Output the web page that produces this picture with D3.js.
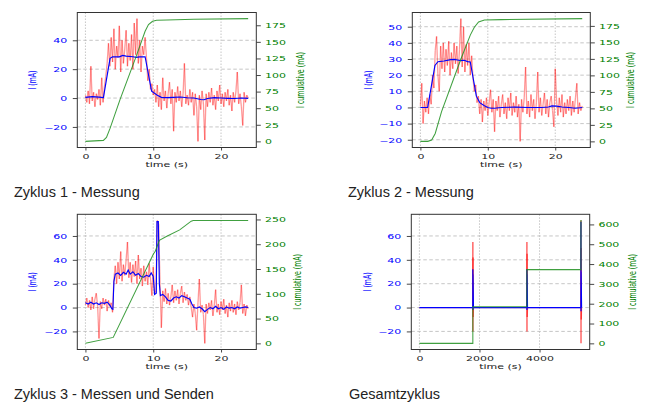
<!DOCTYPE html>
<html>
<head>
<meta charset="utf-8">
<script src="https://cdn.jsdelivr.net/npm/d3@7"></script>
<style>
  html, body { margin: 0; padding: 0; background: #fff; }
  svg { display: block; }
</style>
</head>
<body>
<svg id="chart" width="646" height="403"></svg>
<script>
// Abtastintervall der Rohmessung (s)
const SAMPLE_DT = 0.2;

// Zyklus 1 - Messung: Rohstrom (mA), alle 0.2 s
const c1Current = [
  2, -3, 5, -4, 22, -2, 4, -6, 3, -1,
  6, -5, 14, -3, 8, 15, 24, 38, 22, 42,
  25, 48, 20, 36, 28, 50, 18, 40, 24, 34,
  47, 22, 38, 26, 44, 20, 52, 30, 55, 24,
  40, 18, 36, 30, 42, 28, 12, 20, 6, 10,
  2, 6, -3, 9, -6, 4, -8, 14, -2, 5,
  -7, 3, 11, -4, 6, -23, 4, -3, 8, -2,
  5, -6, 3, 24, -4, 2, -5, 6, -3, 4,
  -12, 3, -6, -30, 2, -8, 5, -4, -29, 3,
  -6, 4, -3, 7, -5, 2, -8, 5, -2, 9,
  -4, 3, -6, 4, -2, 6, -5, 2, -9, 4,
  -3, 5, 18, -4, 3, -6, -19, 4, -3, 2,
  0
];
const c1SmoothT = [0, 1, 2, 2.65, 3.63, 4, 5, 5.5, 6, 7, 7.5, 8, 8.8, 9.76, 10.6, 11.2, 12, 13, 14, 15, 16, 16.5, 17, 17.5, 18, 19, 20, 21, 22, 23, 24];
const c1SmoothI = [0.5, 1, 0.6, 0.3, 27.5, 28.6, 28.5, 29.5, 29, 28.6, 28.2, 28.5, 28.6, 4.8, 2, 0.5, 0.3, 0.5, 0.7, 0.2, 0, -0.5, -1, -1.2, -0.3, 0.3, 0, -0.2, -0.3, 0, -0.2];
const c1CumT = [0, 2.65, 3.1, 3.63, 5.1, 7.55, 8.8, 9.3, 9.9, 10.5, 12, 16, 24];
const c1CumI = [0, 1.5, 6, 19.5, 63, 130, 166, 176, 181, 182.5, 183, 184, 185];

// Zyklus 2 - Messung
const c2Current = [
  1, 15, -10, 4, -3, 6, -4, 8, 2, 20,
  12, 35, 44, 20, 10, 38, 24, 40, 22, 36,
  26, 41, 20, 34, 24, 40, 27, 38, 21, 36,
  55, 25, 50, 22, 39, 26, 40, 20, 32, 18,
  10, 14, 3, 7, -4, 5, -9, 4, -2, 6,
  -5, 3, 11, -3, 5, -15, 4, -2, 7, -6,
  2, 8, -4, 3, -7, 6, -2, 9, -5, 3,
  -3, 7, -6, 2, -21, 5, -3, 6, 25, -4,
  4, -6, 8, -2, 5, -7, 3, 22, -3, 6,
  -5, 2, 9, -4, 5, -6, 3, 7, -2, -12,
  24, 4, -5, 6, -3, 8, -6, 3, -4, 5,
  -2, 7, -5, 4, -3, 6, 15, -4, 3, -2,
  1
];
const c2SmoothT = [0, 1.08, 2.16, 2.6, 3.5, 4.5, 5, 5.5, 6, 6.5, 7, 7.4, 8.3, 8.8, 9.5, 10, 10.5, 11, 12, 14, 16, 18, 19, 19.5, 20.2, 21, 22, 23, 24];
const c2SmoothI = [0, 0, 26, 28.3, 28.8, 29.6, 29.8, 29.4, 29, 29.2, 28.4, 28.2, 7, 3, 1, 0, -0.5, -0.5, 0, 0.2, 0, 0, 0.3, 1, 0.8, 0.3, 0, -0.5, 0];
const c2CumT = [0, 1.1, 1.67, 2.2, 3.14, 5.98, 7.4, 8, 8.63, 9.5, 12, 24];
const c2CumI = [0, 0, 2, 12, 45, 124, 161, 173, 181, 184, 184.5, 186];

// Zyklus 3 - Messen und Senden
const c3Current = [
  2, 8, 0, 6, -2, 9, -1, 7, 12, 1,
  -26, 5, -1, 8, 2, 7, -3, 6, 1, 4,
  -4, 24, 35, 20, 38, 24, 47, 22, 36, 27,
  40, 55, 25, 38, 21, 36, 26, 39, 20, 44,
  24, 33, 18, 35, 22, 30, 19, 37, 24, 10,
  34, 12, 14, 73, 70, 20, -17, 14, 5, 16,
  3, 12, 2, 9, 19, 4, 14, 6, 15, 3,
  12, 18, 4, 13, 6, 11, 2, 9, 0, -8,
  3, -5, -19, 4, 24, -4, 2, -6, -30, 3,
  -5, 4, -2, 6, -7, 2, 15, -4, 3, -6,
  5, -2, 7, -5, 2, -8, 4, -3, 6, -4,
  3, -6, 5, -2, 4, 19, -5, 3, -7, 2,
  -1
];
const c3SmoothT = [0, 0.4, 0.8, 1.2, 1.6, 2, 2.4, 2.8, 3.2, 3.6, 3.9, 4.05, 4.2, 4.4, 4.8, 5.2, 5.6, 6, 6.3, 6.6, 7, 7.4, 7.8, 8.2, 8.6, 9, 9.4, 9.7, 10, 10.2, 10.45, 10.55, 10.75, 10.9, 11.05, 11.4, 11.8, 12.2, 12.6, 13, 13.4, 13.8, 14.2, 14.6, 15, 15.4, 15.7, 16, 16.4, 16.8, 17.2, 17.6, 18, 18.4, 18.8, 19.2, 19.6, 20, 20.4, 20.8, 21.2, 21.6, 22, 22.4, 22.8, 23.2, 23.6, 24];
const c3SmoothI = [4, 3, 4.5, 3, 4, 2.5, 4, 3.5, 4.5, 2, -1, -1.5, 22, 28, 29, 27, 29.5, 28, 31.5, 28, 30, 27, 28.5, 26, 25.5, 27, 26, 29, 26, 11, 12, 72, 72, 20, 10, 11, 9, 6, 5.5, 8, 9, 8, 10, 9, 8, 7, 3, 0, -0.5, 0.5, -1, -3.5, -1.5, 0, -1, 1, -1, 0, -1.5, 0.5, -0.5, 0, -1, 0.5, -0.5, 0, 0.5, 0];
const c3CumT = [0, 4.1, 10.05, 10.3, 10.9, 12, 13.9, 15.6, 15.9, 24];
const c3CumI = [0, 12, 181, 186, 208, 216, 229, 246.6, 248, 248];

// Gesamtzyklus (s)
const totRawT = [0, 1776, 1779, 1781, 1785, 1790, 1800, 3576, 3579, 3581, 3585, 3590, 3600, 5376, 5379, 5381, 5385, 5390, 5400];
const totRawI = [0, 0, 55, -20, 42, -8, 0, 0, 55, -20, 45, -8, 0, 0, 73, -30, 50, -10, 0];
const totSmoothT = [0, 1776, 1779, 1781, 1785, 1800, 3576, 3579, 3581, 3585, 3600, 5376, 5379, 5381, 5385, 5400];
const totSmoothI = [0, 0, 32, -2, 28, 0, 0, 32, -2, 28, 0, 0, 72, -3, 30, 0];
const totCumT = [0, 1779, 1779, 3579, 3579, 5379, 5379, 5400];
const totCumI = [0, 0, 185, 185, 372, 372, 620, 620];

// Achsenbeschriftungen
const xTicksCycle = [0, 10, 20];
const xTicksTotal = [0, 2000, 4000];
const yTicks1 = [-20, 0, 20, 40];
const yTicks2 = [-20, -10, 0, 10, 20, 30, 40, 50];
const yTicks34 = [-20, 0, 20, 40, 60];
const cumTicks12 = [0, 25, 50, 75, 100, 125, 150, 175];
const cumTicks3 = [0, 50, 100, 150, 200, 250];
const cumTicksTotal = [0, 100, 200, 300, 400, 500, 600];
const captions = ["Zyklus 1 - Messung", "Zyklus 2 - Messung", "Zyklus 3 - Messen und Senden", "Gesamtzyklus"];

// Bild ist vertikal gestaucht -> Text ebenso stauchen
const SQ = 0.57;
const FONT = "DejaVu Sans";
const FS = 11;

const rawTimes = arr => arr.map((_, i) => i * SAMPLE_DT);

const panels = [
  { l: 77.3, r: 256.3, t: 12.5, b: 147.5,
    rawT: rawTimes(c1Current), rawI: c1Current, smT: c1SmoothT, smI: c1SmoothI, cumT: c1CumT, cumI: c1CumI,
    xTicks: xTicksCycle, yTicks: yTicks1, cumTicks: cumTicks12,
    ylabX: 35.5, y2labX: 303.5, caption: captions[0], capX: 14, capY: 196.5 },
  { l: 412.3, r: 590.3, t: 12.5, b: 147.5,
    rawT: rawTimes(c2Current), rawI: c2Current, smT: c2SmoothT, smI: c2SmoothI, cumT: c2CumT, cumI: c2CumI,
    xTicks: xTicksCycle, yTicks: yTicks2, cumTicks: cumTicks12,
    ylabX: 371.5, y2labX: 633.5, caption: captions[1], capX: 348, capY: 196.5 },
  { l: 77.3, r: 256.3, t: 214.3, b: 349.5,
    rawT: rawTimes(c3Current), rawI: c3Current, smT: c3SmoothT, smI: c3SmoothI, cumT: c3CumT, cumI: c3CumI,
    xTicks: xTicksCycle, yTicks: yTicks34, cumTicks: cumTicks3,
    ylabX: 35.5, y2labX: 301, caption: captions[2], capX: 14, capY: 399 },
  { l: 411.3, r: 589.7, t: 214.3, b: 349.5,
    rawT: totRawT, rawI: totRawI, smT: totSmoothT, smI: totSmoothI, cumT: totCumT, cumI: totCumI,
    xTicks: xTicksTotal, yTicks: yTicks34, cumTicks: cumTicksTotal,
    ylabX: 371, y2labX: 635.5, caption: captions[3], capX: 349, capY: 399 }
];

const svg = d3.select("#chart");
const fmt = d3.format("d");

function padExtent([a, b]) {
  const m = (b - a) * 0.05;
  return [a - m, b + m];
}

function styleAxis(sel, color, tx, ty, anchor) {
  sel.select(".domain").remove();
  sel.attr("font-family", FONT).attr("font-size", FS);
  sel.selectAll(".tick line").attr("stroke", "#333").attr("stroke-width", 0.9);
  sel.selectAll(".tick text")
    .attr("x", 0).attr("y", 0).attr("dy", 0)
    .attr("fill", color)
    .attr("text-anchor", anchor)
    .attr("transform", `translate(${tx},${ty}) scale(1,${SQ})`);
}

function drawPanel(p) {
  const x = d3.scaleLinear().domain(padExtent(d3.extent(p.rawT))).range([p.l, p.r]);
  const y = d3.scaleLinear().domain(padExtent(d3.extent([...p.rawI, ...p.smI]))).range([p.b, p.t]);
  const y2 = d3.scaleLinear().domain(padExtent(d3.extent(p.cumI))).range([p.b, p.t]);

  const g = svg.append("g");

  // Gitter
  g.append("g").selectAll("line").data(p.yTicks).join("line")
    .attr("x1", p.l).attr("x2", p.r)
    .attr("y1", d => y(d)).attr("y2", d => y(d))
    .attr("stroke", "#b8b8b8").attr("stroke-width", 0.8)
    .attr("stroke-dasharray", "3.5,2.5");
  g.append("g").selectAll("line").data(p.xTicks).join("line")
    .attr("x1", d => x(d)).attr("x2", d => x(d))
    .attr("y1", p.t).attr("y2", p.b)
    .attr("stroke", "#b8b8b8").attr("stroke-width", 0.8)
    .attr("stroke-dasharray", "1.5,1.5");

  // Rohstrom als einzelne Segmente (Überlagerung wird dunkler)
  const raw = p.rawT.map((t, i) => [t, p.rawI[i]]);
  g.append("g").selectAll("line").data(d3.pairs(raw)).join("line")
    .attr("x1", d => x(d[0][0])).attr("y1", d => y(d[0][1]))
    .attr("x2", d => x(d[1][0])).attr("y2", d => y(d[1][1]))
    .attr("stroke", "#ff0000").attr("stroke-opacity", 0.4)
    .attr("stroke-width", 1.3);

  // geglätteter Strom
  const smooth = p.smT.map((t, i) => [t, p.smI[i]]);
  g.append("path").datum(smooth)
    .attr("d", d3.line().x(d => x(d[0])).y(d => y(d[1])))
    .attr("fill", "none").attr("stroke", "#0000ff").attr("stroke-width", 1.15);

  // kumulativ (rechte Achse)
  const cum = p.cumT.map((t, i) => [t, p.cumI[i]]);
  g.append("path").datum(cum)
    .attr("d", d3.line().x(d => x(d[0])).y(d => y2(d[1])))
    .attr("fill", "none").attr("stroke", "#1f8f1f").attr("stroke-opacity", 0.85)
    .attr("stroke-width", 1.05);

  // Rahmen
  g.append("rect")
    .attr("x", p.l).attr("y", p.t)
    .attr("width", p.r - p.l).attr("height", p.b - p.t)
    .attr("fill", "none").attr("stroke", "#333").attr("stroke-width", 1);

  // Achsen
  g.append("g").attr("transform", `translate(${p.l},0)`)
    .call(d3.axisLeft(y).tickValues(p.yTicks).tickSize(4.5).tickFormat(fmt))
    .call(styleAxis, "#0000ff", -10, 2.3, "end");
  g.append("g").attr("transform", `translate(${p.r},0)`)
    .call(d3.axisRight(y2).tickValues(p.cumTicks).tickSize(4.5).tickFormat(fmt))
    .call(styleAxis, "#008000", 8.7, 2.3, "start");
  g.append("g").attr("transform", `translate(0,${p.b})`)
    .call(d3.axisBottom(x).tickValues(p.xTicks).tickSize(3).tickFormat(fmt))
    .call(styleAxis, "#222", 0, 11, "middle");

  // Achsentitel
  const cy = (p.t + p.b) / 2;
  g.append("text")
    .attr("transform", `translate(${(p.l + p.r) / 2},${p.b + 19.2}) scale(1,${SQ})`)
    .attr("text-anchor", "middle")
    .attr("font-family", FONT).attr("font-size", FS).attr("fill", "#222")
    .text("time (s)");
  g.append("text")
    .attr("transform", `translate(${p.ylabX},${cy}) scale(1,${SQ}) rotate(-90)`)
    .attr("text-anchor", "middle")
    .attr("font-family", FONT).attr("font-size", FS).attr("fill", "#0000ff")
    .text("I (mA)");
  g.append("text")
    .attr("transform", `translate(${p.y2labX},${cy}) scale(1,${SQ}) rotate(-90)`)
    .attr("text-anchor", "middle")
    .attr("font-family", FONT).attr("font-size", FS).attr("fill", "#008000")
    .text("I cumulative (mA)");

  // Bildunterschrift
  svg.append("text")
    .attr("x", p.capX).attr("y", p.capY)
    .attr("font-family", "Liberation Sans, Arial, sans-serif")
    .attr("font-size", 14.5).attr("fill", "#222")
    .text(p.caption);
}

panels.forEach(drawPanel);
</script>
</body>
</html>
